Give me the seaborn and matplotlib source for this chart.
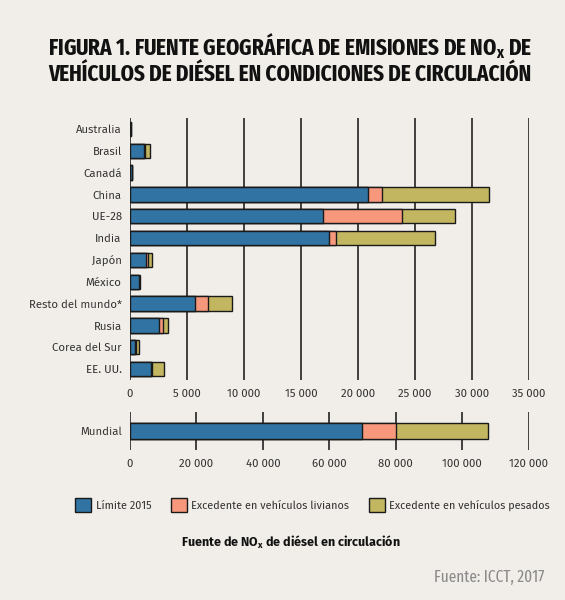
import matplotlib
matplotlib.use("Agg")
import matplotlib.pyplot as plt
import seaborn as sns
import pandas as pd
import numpy as np
from matplotlib.patches import Patch

countries = ["Australia", "Brasil", "Canadá", "China", "UE-28", "India", "Japón",
             "México", "Resto del mundo*", "Rusia", "Corea del Sur", "EE. UU."]
limite = [40, 1250, 150, 20850, 16950, 17480, 1410, 760, 5670, 2580, 470, 1880]
livianos = [5, 40, 10, 1270, 6900, 590, 200, 30, 1140, 290, 70, 30]
pesados = [15, 500, 20, 9330, 4640, 8720, 360, 120, 2170, 500, 220, 1030]

world_label = ["Mundial"]
world_limite = [69800]
world_livianos = [10300]
world_pesados = [27800]

top_ticks = [0, 5000, 10000, 15000, 20000, 25000, 30000, 35000]
bot_ticks = [0, 20000, 40000, 60000, 80000, 100000, 120000]

legend_labels = ["Límite 2015", "Excedente en vehículos livianos", "Excedente en vehículos pesados"]
colors = ["#3174a3", "#f7977b", "#c2b660"]

BG = "#f1eee9"
TXT = "#333333"
COND = ["Fira Sans Extra Condensed", "Fira Sans Condensed", "Roboto Condensed",
        "Encode Sans Condensed", "DejaVu Sans"]
BODY = ["Fira Sans", "Lato", "DejaVu Sans"]

sns.set_theme(style="white")
plt.rcParams["font.family"] = BODY

fig = plt.figure(figsize=(5.65, 6.0), dpi=100, facecolor=BG)

def fmt(v):
    return f"{v:,}".replace(",", " ")

def draw(ax, labels, a, b, c, width):
    df = pd.DataFrame({"cat": labels,
                       "s1": np.array(a),
                       "s2": np.array(a) + np.array(b),
                       "s3": np.array(a) + np.array(b) + np.array(c)})
    for col, colr in zip(["s3", "s2", "s1"], colors[::-1]):
        sns.barplot(data=df, y="cat", x=col, orient="h", color=colr, ax=ax,
                    width=width, edgecolor="#1a1a1a", linewidth=1.0,
                    saturation=1, zorder=3)
    ax.set_facecolor(BG)
    for s in ax.spines.values():
        s.set_visible(False)
    ax.set_xlabel("")
    ax.set_ylabel("")
    ax.tick_params(axis="both", length=0, labelsize=8.2, colors=TXT)
    ax.tick_params(axis="y", pad=6)
    ax.tick_params(axis="x", pad=6)

ax1 = fig.add_axes([130/565, 1-380/600, 399/565, 262/600])
draw(ax1, countries, limite, livianos, pesados, 0.65)
ax1.set_xlim(0, 35000)
ax1.set_ylim(11.5, -0.5)
ax1.set_xticks(top_ticks)
ax1.set_xticklabels([fmt(t) for t in top_ticks])
for t in top_ticks:
    ax1.axvline(t, color="#111111", lw=1.1, zorder=1)

ax2 = fig.add_axes([130/565, 1-450/600, 398.5/565, 38/600])
draw(ax2, world_label, world_limite, world_livianos, world_pesados, 0.4)
ax2.set_xlim(0, 120000)
ax2.set_ylim(0.5, -0.5)
ax2.set_xticks(bot_ticks)
ax2.set_xticklabels([fmt(t) for t in bot_ticks])
for t in bot_ticks:
    ax2.axvline(t, color="#111111", lw=1.1, zorder=1)

fig.text(0.513, 1-58/600,
         "FIGURA 1. FUENTE GEOGRÁFICA DE EMISIONES DE NO$_\\mathregular{x}$ DE\n"
         "VEHÍCULOS DE DIÉSEL EN CONDICIONES DE CIRCULACIÓN",
         ha="center", va="center", fontsize=16.6, fontweight="bold",
         family=COND, color="#111111", linespacing=1.1)

handles = [Patch(facecolor=c, edgecolor="#1a1a1a", linewidth=1.0) for c in colors]
fig.legend(handles, legend_labels, loc="center", bbox_to_anchor=(0.553, 1-505/600),
           ncol=3, frameon=False, fontsize=7.8, handlelength=1.5, handleheight=1.5,
           handletextpad=0.4, columnspacing=1.8, labelcolor=TXT)

fig.text(291/565, 1-542/600, "Fuente de NO$_\\mathregular{x}$ de diésel en circulación",
         ha="center", va="center", fontsize=9, fontweight="bold", color="#111111")

fig.text(544/565, 1-577/600, "Fuente: ICCT, 2017", ha="right", va="center",
         fontsize=12, family=COND, fontweight="normal", color="#8a8a8a")

fig.savefig("out.png", dpi=100, facecolor=BG)
